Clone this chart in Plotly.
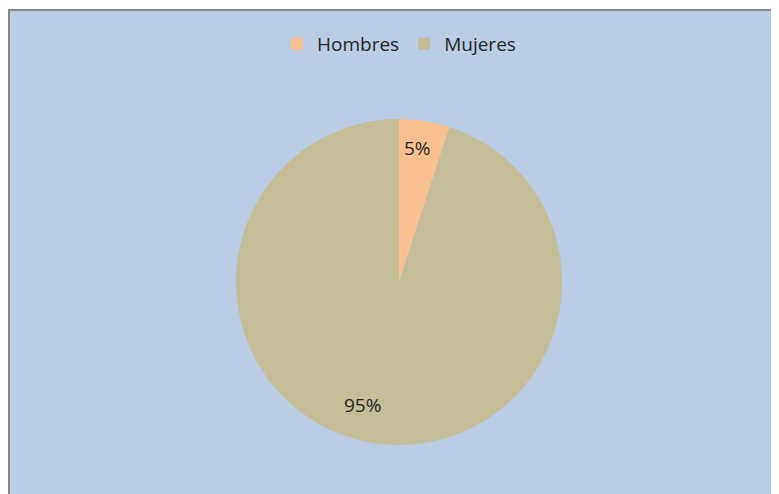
import math
import plotly.graph_objects as go

labels = ["Hombres", "Mujeres"]
values = [5, 95]
colors = ["#FAC090", "#C4BD97"]

W, H = 779, 494
OFF = 8  # page body offset of the figure in the browser
cx, cy, r = 399 - OFF, 282 - OFF, 163
font_family = "Open Sans"
text_color = "#262626"
fsize = 19

# label placement style per slice: (radius fraction, angular tweak in degrees)
label_style = [(0.83, -1.0), (0.79, 7.6)]

total = sum(values)
fig = go.Figure(go.Pie(
    labels=labels, values=values, sort=False, direction="clockwise", rotation=0,
    marker=dict(colors=colors, line=dict(width=0)),
    textposition="none",
    domain=dict(x=[(cx - r) / W, (cx + r) / W], y=[(H - cy - r) / H, (H - cy + r) / H]),
    hoverinfo="label+percent",
))

annotations = []
start = 0
for v, (f, tweak) in zip(values, label_style):
    end = start + v
    theta = math.radians((start + end) / 2 / total * 360 + tweak)
    px = cx + f * r * math.sin(theta)
    py = cy - f * r * math.cos(theta)
    annotations.append(dict(x=px / W, y=1 - py / H, xref="paper", yref="paper",
                            text=f"{round(v / total * 100)}%", showarrow=False,
                            font=dict(family=font_family, size=fsize, color=text_color),
                            xanchor="center", yanchor="middle"))
    start = end

fig.update_layout(
    width=W, height=H,
    margin=dict(l=0, r=0, t=0, b=0),
    paper_bgcolor="white",
    font=dict(family=font_family, size=fsize, color=text_color),
    showlegend=True,
    legend=dict(orientation="h", x=(399 - OFF) / W, xanchor="center", y=1 - (44 - OFF) / H,
                yanchor="middle", bgcolor="rgba(0,0,0,0)", font=dict(size=fsize),
                itemwidth=30, tracegroupgap=0),
    annotations=annotations,
    shapes=[dict(type="rect", xref="paper", yref="paper",
                 x0=1 / W, x1=1.01, y0=-0.01, y1=1 - 2 / H,
                 fillcolor="#B9CDE5", line=dict(color="#868686", width=2), layer="below")],
)

fig.write_html("out.html")
